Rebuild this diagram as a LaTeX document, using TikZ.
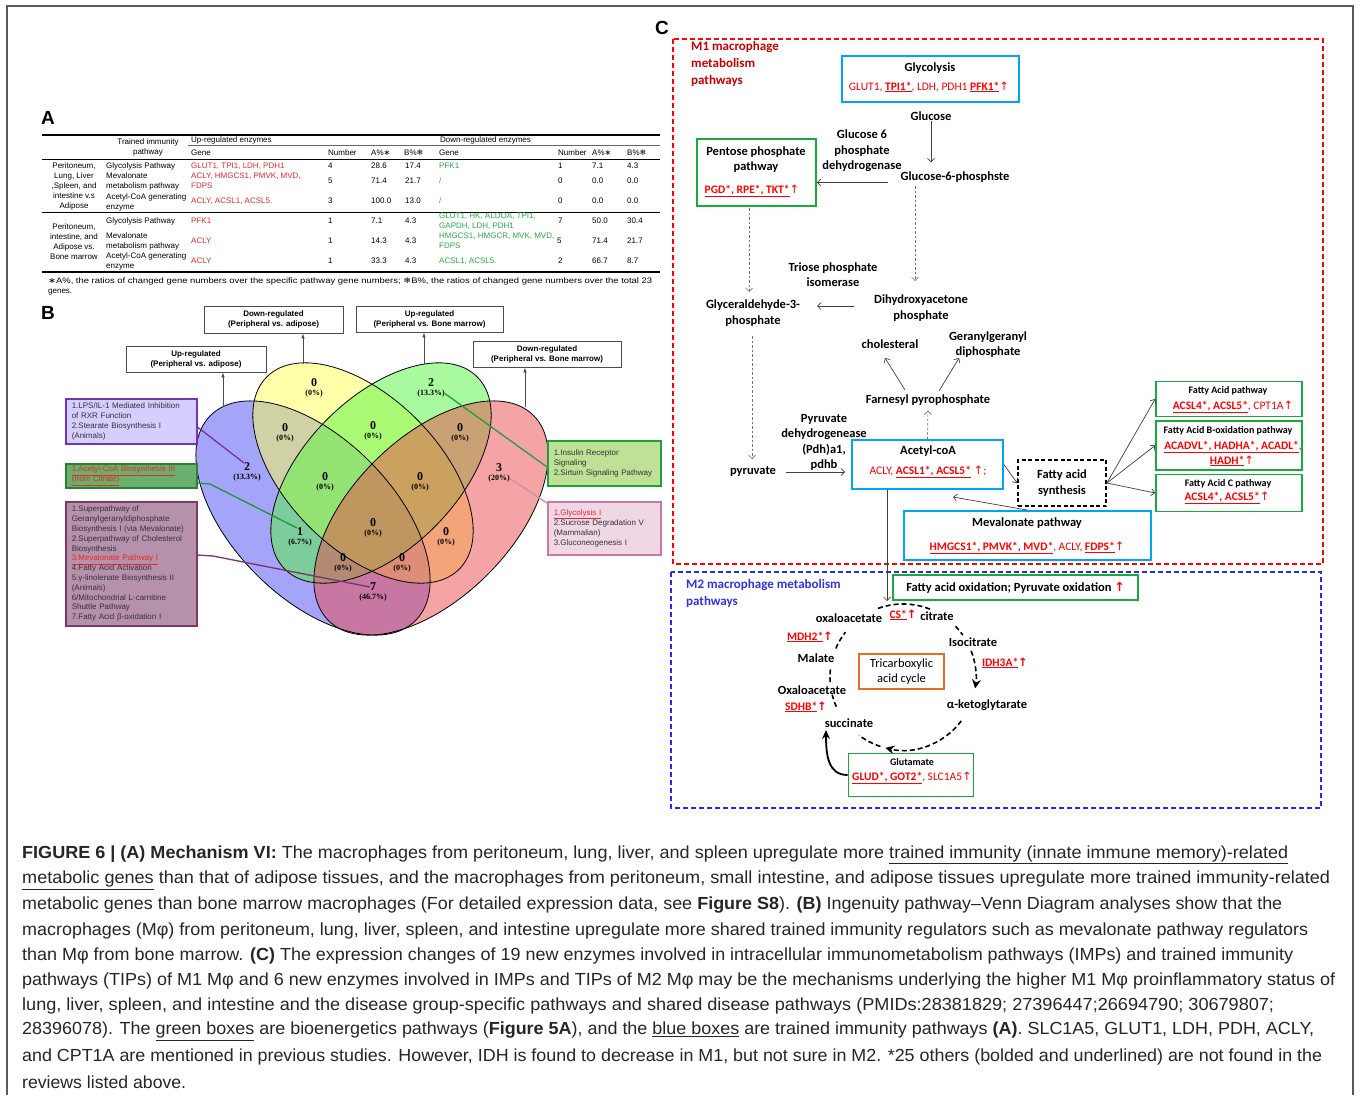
\documentclass[tikz,border=0pt]{standalone}
\usepackage{fontspec}
\usepackage{graphicx}
\usetikzlibrary{arrows.meta,calc}
\setmainfont{Liberation Sans}
\newfontfamily\lsans{Liberation Sans}
\newfontfamily\lserif{Liberation Serif}
\newfontfamily\carl{Carlito}
\newfontfamily\djv{DejaVu Sans}
\newcommand\fsz[2]{\fontsize{#1pt}{#2pt}\selectfont}
\newcommand\gs[1]{\textbf{\underline{#1}}}
\newcommand\upar{{\djv ↑}}
\definecolor{tred}{RGB}{235,40,40}
\definecolor{tgrn}{RGB}{40,170,70}
\definecolor{vblue}{RGB}{75,75,245}
\definecolor{vyel}{RGB}{255,255,85}
\definecolor{vgrn}{RGB}{85,245,65}
\definecolor{vpink}{RGB}{235,75,75}
\definecolor{cred}{RGB}{255,0,0}
\definecolor{m1red}{RGB}{200,0,0}
\definecolor{m2blue}{RGB}{50,50,230}
\definecolor{dblue}{RGB}{40,40,245}
\definecolor{cyanb}{RGB}{0,165,245}
\definecolor{boxg}{RGB}{25,170,60}
\definecolor{orng}{RGB}{230,110,30}
\definecolor{pbD}{RGB}{115,50,185}
\definecolor{pbF}{RGB}{212,207,255}
\definecolor{gbD}{RGB}{40,130,50}
\definecolor{gbF}{RGB}{105,175,110}
\definecolor{mbD}{RGB}{130,55,100}
\definecolor{mbF}{RGB}{182,145,172}
\definecolor{rgD}{RGB}{30,160,60}
\definecolor{rgF}{RGB}{190,225,150}
\definecolor{pkD}{RGB}{205,120,160}
\definecolor{pkF}{RGB}{240,215,230}
\definecolor{lnP}{RGB}{120,50,170}
\definecolor{lnG}{RGB}{30,150,50}
\definecolor{lnM}{RGB}{125,50,110}
\definecolor{lnK}{RGB}{210,140,170}
\newcommand\vlab[5]{\node[vnum] (#1) at (#2,#3) {#4}; \node[vpct] (#1x) at (#2,#3+10.5) {(#5)};}
\begin{document}
\begin{tikzpicture}[x=1pt,y=-1pt,
  tb/.style={inner sep=0pt, anchor=west, align=left, font=\lsans\fsz{8}{10}},
  tbc/.style={inner sep=0pt, align=center, font=\lsans\fsz{8}{10}},
  vnum/.style={inner sep=0pt, font=\lserif\bfseries\fsz{12}{12}},
  vpct/.style={inner sep=0pt, font=\lserif\bfseries\fsz{8}{8}},
  vhb/.style={draw=black!70, fill=white, line width=0.8pt, font=\lsans\bfseries\fsz{8}{10}, align=center, inner sep=0pt},
  varr/.style={draw=black!70, line width=0.8pt, -{Latex[length=5pt,width=3.5pt]}},
  sbox/.style={anchor=north west, inner xsep=6pt, inner ysep=2pt, align=left, font=\lsans\fsz{8}{9.8}, text=black!80, line width=1.5pt},
  cbox/.style={draw=cyanb, line width=1.8pt, inner sep=0pt},
  gbox/.style={draw=boxg, line width=1.8pt, inner sep=0pt},
  lab/.style={inner sep=0pt, align=center, font=\carl\bfseries\fsz{12.5}{15.5}},
  hdr/.style={inner sep=0pt, align=center, font=\carl\bfseries\fsz{10}{12}},
  gene/.style={inner sep=0pt, font=\carl\fsz{11.5}{14}, text=cred},
  garr/.style={draw=black!75, line width=0.7pt, -{Straight Barb[length=3.5pt,width=7pt]}},
  gdash/.style={draw=black!55, line width=0.7pt, dash pattern=on 2.5pt off 2pt, -{Straight Barb[length=3.5pt,width=7pt]}},
  tcad/.style={line width=1.6pt, dash pattern=on 5pt off 3pt},
  tcaarr/.style={tcad, -{Stealth[length=9pt,width=9pt,inset=3pt]}},
  captx/.style={inner sep=0pt, anchor=west, font=\lsans\fsz{17.5}{20}, text=black!85}
]
\useasboundingbox (0,0) rectangle (1360,1095);
\fill[white] (0,0) rectangle (1360,1095);
\draw[black!65, line width=1.5pt] (7,1095) -- (7,6) -- (1353,6) -- (1353,1095);

% ---------------- Panel A ----------------
\node[font=\lsans\bfseries\fsz{19}{19}, inner sep=0] (lA) at (48,118) {A};
\draw[line width=1.3pt] (42,135) -- (660,135);
\draw[line width=0.4pt, black!60] (188,145.5) -- (660,145.5);
\draw[line width=0.8pt] (42,159) -- (660,159);
\draw[line width=0.8pt] (42,212) -- (660,212);
\draw[line width=1.3pt] (42,272) -- (660,272);
\node[tbc, font=\lsans\fsz{8}{9.5}] (hTI) at (148,147.5) {Trained immunity\\pathway};
\node[tb] (hUp) at (191,140) {Up-regulated enzymes};
\node[tb] (hDn) at (440,140) {Down-regulated enzymes};
\node[tb] (hG1) at (191,153) {Gene};
\node[tb] (hN1) at (328,153) {Number};
\node[tb] (hA1) at (371,153) {A\%{\djv ∗}};
\node[tb] (hB1) at (404,153) {B\%{\djv ❄}};
\node[tb] (hG2) at (439,153) {Gene};
\node[tb] (hN2) at (558,153) {Number};
\node[tb] (hA2) at (592,153) {A\%{\djv ∗}};
\node[tb] (hB2) at (627,153) {B\%{\djv ❄}};
\node[tbc] (grp1) at (74,186) {Peritoneum,\\Lung, Liver\\,Spleen, and\\intestine v.s\\Adipose};
\node[tbc] (grp2) at (74,241.5) {Peritoneum,\\intestine, and\\Adipose vs.\\Bone marrow};
\node[tb] (p1) at (106,166) {Glycolysis Pathway};
\node[tb] (p2) at (106,181) {Mevalonate\\metabolism pathway};
\node[tb] (p3) at (106,202) {Acetyl-CoA generating\\enzyme};
\node[tb] (p4) at (106,221) {Glycolysis Pathway};
\node[tb] (p5) at (106,241) {Mevalonate\\metabolism pathway};
\node[tb] (p6) at (106,261.5) {Acetyl-CoA generating\\enzyme};
\node[tb, text=tred] (u1) at (191,166) {GLUT1, TPI1, LDH, PDH1};
\node[tb, text=tred] (u2) at (191,181) {ACLY, HMGCS1, PMVK, MVD,\\FDPS};
\node[tb, text=tred] (u3) at (191,201) {ACLY, ACSL1, ACSL5.};
\node[tb, text=tred] (u4) at (191,221) {PFK1};
\node[tb, text=tred] (u5) at (191,241) {ACLY};
\node[tb, text=tred] (u6) at (191,261) {ACLY};
\node[tb] (n1) at (328,166) {4};
\node[tb] (n2) at (328,181) {5};
\node[tb] (n3) at (328,201) {3};
\node[tb] (n4) at (328,221) {1};
\node[tb] (n5) at (328,241) {1};
\node[tb] (n6) at (328,261) {1};
\node[tb] (a1) at (371,166) {28.6};
\node[tb] (a2) at (371,181) {71.4};
\node[tb] (a3) at (371,201) {100.0};
\node[tb] (a4) at (371,221) {7.1};
\node[tb] (a5) at (371,241) {14.3};
\node[tb] (a6) at (371,261) {33.3};
\node[tb] (b1) at (405,166) {17.4};
\node[tb] (b2) at (405,181) {21.7};
\node[tb] (b3) at (405,201) {13.0};
\node[tb] (b4) at (405,221) {4.3};
\node[tb] (b5) at (405,241) {4.3};
\node[tb] (b6) at (405,261) {4.3};
\node[tb, text=tgrn] (d1) at (439,166) {PFK1};
\node[tb, text=tgrn] (d2) at (439,181) {/};
\node[tb, text=tgrn] (d3) at (439,201) {/};
\node[tb, text=tgrn] (d4) at (439,221) {GLUT1, HK, ALDOA, TPI1,\\GAPDH, LDH, PDH1};
\node[tb, text=tgrn] (d5) at (439,241) {HMGCS1, HMGCR, MVK, MVD,\\FDPS};
\node[tb, text=tgrn] (d6) at (439,261) {ACSL1, ACSL5.};
\node[tb] (m1) at (558,166) {1};
\node[tb] (m2) at (558,181) {0};
\node[tb] (m3) at (558,201) {0};
\node[tb] (m4) at (558,221) {7};
\node[tb] (m5) at (557,241) {5};
\node[tb] (m6) at (558,261) {2};
\node[tb] (c1) at (592,166) {7.1};
\node[tb] (c2) at (592,181) {0.0};
\node[tb] (c3) at (592,201) {0.0};
\node[tb] (c4) at (592,221) {50.0};
\node[tb] (c5) at (592,241) {71.4};
\node[tb] (c6) at (592,261) {66.7};
\node[tb] (e1) at (627,166) {4.3};
\node[tb] (e2) at (627,181) {0.0};
\node[tb] (e3) at (627,201) {0.0};
\node[tb] (e4) at (627,221) {30.4};
\node[tb] (e5) at (627,241) {21.7};
\node[tb] (e6) at (627,261) {8.7};
\node[tb] (fn1) at (48,281) {\resizebox{604pt}{\height}{{\djv ∗}A\%, the ratios of changed gene numbers over the specific pathway gene numbers; {\djv ❄}B\%, the ratios of changed gene numbers over the total 23}};
\node[tb] (fn2) at (48,292) {genes.};

% ---------------- Panel B ----------------
\node[font=\lsans\bfseries\fsz{19}{19}, inner sep=0] (lB) at (48,313) {B};
\fill[vblue, fill opacity=0.5, rotate around={-45:(313,518)}] (313,518) ellipse [x radius=145pt, y radius=80pt];
\fill[vyel, fill opacity=0.5, rotate around={-45:(363,473)}] (363,473) ellipse [x radius=136pt, y radius=76pt];
\fill[vgrn, fill opacity=0.5, rotate around={45:(381,473)}] (381,473) ellipse [x radius=136pt, y radius=76pt];
\fill[vpink, fill opacity=0.5, rotate around={45:(431,518)}] (431,518) ellipse [x radius=145pt, y radius=80pt];
\draw[line width=0.8pt, rotate around={-45:(313,518)}] (313,518) ellipse [x radius=145pt, y radius=80pt];
\draw[line width=0.8pt, rotate around={-45:(363,473)}] (363,473) ellipse [x radius=136pt, y radius=76pt];
\draw[line width=0.8pt, rotate around={45:(381,473)}] (381,473) ellipse [x radius=136pt, y radius=76pt];
\draw[line width=0.8pt, rotate around={45:(431,518)}] (431,518) ellipse [x radius=145pt, y radius=80pt];

\vlab{vb}{247}{467}{2}{13.3\%}
\vlab{vy}{314}{383}{0}{0\%}
\vlab{vg}{431}{383}{2}{13.3\%}
\vlab{vp}{499}{468}{3}{20\%}
\vlab{vby}{285}{428}{0}{0\%}
\vlab{vyg}{373}{426}{0}{0\%}
\vlab{vgp}{460}{428}{0}{0\%}
\vlab{vbyg}{325}{477}{0}{0\%}
\vlab{vygp}{420}{477}{0}{0\%}
\vlab{vbg}{300}{532}{1}{6.7\%}
\vlab{vall}{373}{523}{0}{0\%}
\vlab{vyp}{446}{532}{0}{0\%}
\vlab{vbgp}{343}{558}{0}{0\%}
\vlab{vbyp}{402}{558}{0}{0\%}
\vlab{vbp}{373}{587}{7}{46.7\%}

\node[vhb, minimum width=139pt, minimum height=27pt] (hb1) at (273.5,319.5) {Down-regulated\\(Peripheral vs. adipose)};
\node[vhb, minimum width=147pt, minimum height=26pt] (hb2) at (429.5,319) {Up-regulated\\(Peripheral vs. Bone marrow)};
\node[vhb, minimum width=140pt, minimum height=26pt] (hb3) at (196,359) {Up-regulated\\(Peripheral vs. adipose)};
\node[vhb, minimum width=148pt, minimum height=26pt] (hb4) at (547,354) {Down-regulated\\(Peripheral vs. Bone marrow)};
\coordinate (ea) at (303,364);
\coordinate (eb) at (424,364);
\coordinate (ec) at (223,407);
\coordinate (ed) at (525,407);
\draw[varr] (ea) -- (ea |- hb1.south);
\draw[varr] (eb) -- (eb |- hb2.south);
\draw[varr] (ec) -- (ec |- hb3.south);
\draw[varr] (ed) -- (ed |- hb4.south);

\node[sbox, draw=pbD, fill=pbF, text width=119pt, minimum height=45pt] (pb) at (65,398) {1.LPS/IL-1 Mediated Inhibition\\of RXR Function\\2.Stearate Biosynthesis I\\(Animals)};
\node[sbox, draw=gbD, fill=gbF, text width=119pt, minimum height=24pt, text=tred] (gb) at (65,463) {\underline{1.Acetyl-CoA Biosynthesis III}\\\underline{(from Citrate)}};
\node[sbox, draw=mbD, fill=mbF, text width=119pt, minimum height=124pt] (mb) at (65,501) {1.Superpathway of\\Geranylgeranyldiphosphate\\Biosynthesis I (via Mevalonate)\\2.Superpathway of Cholesterol\\Biosynthesis\\{\color{tred}\underline{3.Mevalonate Pathway I}}\\4.Fatty Acid Activation\\5.γ-linolenate Biosynthesis II\\(Animals)\\6/Mitochondrial L-carnitine\\Shuttle Pathway\\7.Fatty Acid β-oxidation I};
\node[sbox, draw=rgD, fill=rgF, text width=101pt, minimum height=45pt] (rg) at (547,440) {1.Insulin Receptor\\Signaling\\2.Sirtuin Signaling Pathway};
\node[sbox, draw=pkD, fill=pkF, text width=101pt, minimum height=53pt] (pkb) at (547,501) {{\color{tred}\underline{1.Glycolysis I}}\\2.Sucrose Degradation V\\(Mammalian)\\3.Gluconeogenesis I};

\coordinate (gk) at (210,484);
\coordinate (mk) at (213,556);
\draw[lnP, line width=1.3pt] (pb.east |- 0,427) -- (vb.north west);
\draw[lnG, line width=1.3pt] (gb.east |- 0,483) -- (gk) -- (vbg.north west);
\draw[lnM, line width=1.3pt] (mb.east |- 0,555) -- (mk) -- (vbp.west);
\draw[rgD, line width=1.3pt] (vgx.east) -- (rg.west |- 0,467);
\draw[lnK, line width=1.3pt] (vpx.east) -- (pkb.west |- 0,503);

% ---------------- Panel C ----------------
\node[font=\lsans\bfseries\fsz{19}{19}, inner sep=0] (lC) at (662,28) {C};
\draw[cred, line width=1.5pt, dash pattern=on 5pt off 3pt] (673,39) rectangle (1323,564);
\draw[dblue, line width=1.5pt, dash pattern=on 5pt off 3pt] (671,572) rectangle (1321,808);
\node[lab, text=m1red, align=left, anchor=west, font=\carl\bfseries\fsz{13}{17}] (m1t) at (691,64) {M1 macrophage\\metabolism\\pathways};
\node[lab, text=m2blue, align=left, anchor=west, font=\carl\bfseries\fsz{13}{17}] (m2t) at (686,593.5) {M2 macrophage metabolism\\pathways};

\node[lab] (glc) at (931,116) {Glucose};
\node[cbox, fill=white, minimum width=177pt, minimum height=46pt] (glyb) at (930.5,79) {};
\node[lab] (glyt) at (930,68) {Glycolysis};
\node[gene] (glyg) at (929,87) {GLUT1, \gs{TPI1*}, LDH, PDH1 \gs{PFK1*}\upar};
\node[lab] (g6pd) at (862,151) {Glucose 6\\phosphate\\dehydrogenase};
\node[lab] (g6p) at (955,177) {Glucose-6-phosphste};
\draw[garr, shorten >=9pt] (glc.south) -- (glc.south |- g6p.north);

\node[gbox, minimum width=119pt, minimum height=67pt] (ppb) at (756.5,172.5) {};
\node[lab] (ppt) at (756,159.5) {Pentose phosphate\\pathway};
\node[gene] (ppg) at (752,191) {\gs{PGD*, RPE*, TKT*}\upar};
\coordinate (ga) at (888,182.5);
\draw[garr] (ga) -- (ga -| ppb.east);

\node[lab] (tpi) at (833,274.5) {Triose phosphate\\isomerase};
\node[lab] (gly3) at (753,313) {Glyceraldehyde-3-\\phosphate};
\node[lab] (dhap) at (921,308) {Dihydroxyacetone\\phosphate};
\coordinate (ds1) at (749,208);
\coordinate (de1) at (749,292);
\draw[gdash] (ds1) -- (de1);
\coordinate (ds2) at (915,186);
\coordinate (de2) at (915,281);
\draw[gdash] (ds2) -- (de2);
\coordinate (hs1) at (854,306);
\coordinate (he1) at (817,306);
\draw[garr] (hs1) -- (he1);
\node[lab] (pyr) at (753,472) {pyruvate};
\coordinate (ds3) at (752,336);
\coordinate (de3) at (752,459);
\draw[gdash] (ds3) -- (de3);
\node[lab] (chol) at (890,344) {cholesteral};
\node[lab] (ggpp) at (988,344.5) {Geranylgeranyl\\diphosphate};
\node[lab] (fpp) at (928,400) {Farnesyl pyrophosphate};
\coordinate (fs1) at (905,390); \coordinate (fe1) at (885,358);
\coordinate (fs2) at (939,391); \coordinate (fe2) at (959,358);
\draw[garr] (fs1) -- (fe1);
\draw[garr] (fs2) -- (fe2);
\node[lab] (pdh) at (824,442.5) {Pyruvate\\dehydrogenease\\(Pdh)a1,\\pdhb};
\node[cbox, minimum width=151pt, minimum height=49pt] (acb) at (927.5,464.5) {};
\node[lab] (act) at (928,451) {Acetyl-coA};
\node[gene] (acg) at (928,472) {ACLY, \gs{ACSL1*, ACSL5*} \upar;};
\draw[gdash, shorten >=5pt] (acb.north) -- (fpp.south);
\draw[garr, shorten <=10pt, shorten >=6pt] (pyr.east) -- (acb.west |- pyr.east);

\node[lab, draw, line width=1.8pt, dash pattern=on 4pt off 2.5pt, minimum width=88pt, minimum height=46pt] (fas) at (1062,483) {Fatty acid\\synthesis};
\draw[garr] (acb.east) -- (fas.west);
\node[gbox, minimum width=146pt, minimum height=35pt] (fa1) at (1229,399) {};
\node[gbox, minimum width=146pt, minimum height=49pt] (fa2) at (1229,445.5) {};
\node[gbox, minimum width=146pt, minimum height=37pt] (fa3) at (1229,493) {};
\node[hdr] (fa1t) at (1228,391) {Fatty Acid pathway};
\node[gene] (fa1g) at (1233,407) {\gs{ACSL4*, ACSL5*}, CPT1A\upar};
\node[hdr] (fa2t) at (1228,431) {Fatty Acid B-oxidation pathway};
\node[gene] (fa2g) at (1233,447) {\gs{ACADVL*, HADHA*, ACADL*},};
\node[gene] (fa2h) at (1232,461) {\gs{HADH*}\upar};
\node[hdr] (fa3t) at (1228,484) {Fatty Acid C pathway};
\node[gene] (fa3g) at (1227,498) {\gs{ACSL4*, ACSL5*}\upar};
\draw[garr] (fas.east) -- (fa1.west);
\draw[garr] (fas.east) -- (fa2.west);
\draw[garr] (fas.east) -- (fa3.west);

\node[cbox, minimum width=247pt, minimum height=49pt] (mvb) at (1027.5,535.5) {};
\node[lab] (mvt) at (1027,523) {Mevalonate pathway};
\node[gene] (mvg) at (1027,548) {\gs{HMGCS1*, PMVK*, MVD*}, ACLY, \gs{FDPS*}\upar};
\coordinate (mve) at (953,497);
\draw[garr] (mvb.north) -- (mve);
\coordinate (tctop) at (887,601);
\draw[garr] (acb.south -| tctop) -- (tctop);

% M2
\node[gbox, lab, minimum width=245pt, minimum height=25pt] (fao) at (1015.5,587.5) {Fatty acid oxidation; Pyruvate oxidation {\color{cred}\upar}};
\coordinate (tc) at (903,677);
\node[lab] (oxa1) at (849,618) {oxaloacetate};
\node[gene, font=\carl\bfseries\fsz{11.5}{14}] (cs) at (903,615) {\underline{CS*}\upar};
\node[lab] (cit) at (937,616) {citrate};
\node[lab] (iso) at (973,642) {Isocitrate};
\node[gene, font=\carl\bfseries\fsz{11.5}{14}] (idh) at (1005,663) {\underline{IDH3A*}\upar};
\node[lab] (akg) at (987,705) {α-ketoglytarate};
\node[gene, font=\carl\bfseries\fsz{11.5}{14}] (mdh) at (810,637) {\underline{MDH2*}\upar};
\node[lab] (mal) at (816,658) {Malate};
\node[lab] (oxa2) at (812,690) {Oxaloacetate};
\node[gene, font=\carl\bfseries\fsz{11.5}{14}] (sdh) at (806,707) {\underline{SDHB*}\upar};
\node[lab] (suc) at (849,723) {succinate};
\node[lab, font=\carl\fsz{12.5}{15.5}, draw=orng, line width=1.5pt, minimum width=85pt, minimum height=35pt] (tcab) at (901.5,671.5) {Tricarboxylic\\acid cycle};
\draw[tcad] ($(tc)+(110:73pt)$) arc[start angle=110, end angle=67, radius=73pt];
\draw[tcad] ($(tc)+(44:73pt)$) arc[start angle=44, end angle=35, radius=73pt];
\draw[tcaarr] ($(tc)+(21:73pt)$) arc[start angle=21, end angle=-9, radius=73pt];
\draw[tcaarr] ($(tc)+(-37:73pt)$) arc[start angle=-37, end angle=-104, radius=73pt];
\draw[tcad] ($(tc)+(-108:73pt)$) arc[start angle=-108, end angle=-127, radius=73pt];
\draw[tcad] ($(tc)+(-156:73pt)$) arc[start angle=-156, end angle=-166, radius=73pt];
\draw[tcad] ($(tc)+(174:73pt)$) arc[start angle=174, end angle=184, radius=73pt];
\draw[tcad] ($(tc)+(157:73pt)$) arc[start angle=157, end angle=142, radius=73pt];
\node[gbox, minimum width=125pt, minimum height=43pt] (glub) at (911,775) {};
\node[hdr] (glut) at (912,762) {Glutamate};
\node[gene] (glug) at (912,778) {\gs{GLUD*, GOT2*}, SLC1A5\upar};
\coordinate (sucb) at (826,730);
\draw[line width=1.8pt, -{Stealth[length=9pt,width=8pt,inset=3pt]}] (glub.west) .. controls (828,775) and (826,755) .. (sucb);

% ---------------- Caption ----------------
\node[captx] (cap1) at (22,855) {\resizebox{1266pt}{\height}{\textbf{FIGURE 6 | (A) Mechanism VI:} The macrophages from peritoneum, lung, liver, and spleen upregulate more \underline{trained immunity (innate immune memory)-related}}};
\node[captx] (cap2) at (22,880.2) {\resizebox{1308pt}{\height}{\underline{metabolic genes} than that of adipose tissues, and the macrophages from peritoneum, small intestine, and adipose tissues upregulate more trained immunity-related}};
\node[captx] (cap3) at (22,905.4) {\resizebox{1260pt}{\height}{metabolic genes than bone marrow macrophages (For detailed expression data, see \textbf{Figure S8}). \textbf{(B)} Ingenuity pathway–Venn Diagram analyses show that the}};
\node[captx] (cap4) at (22,930.6) {\resizebox{1286pt}{\height}{macrophages (Mφ) from peritoneum, lung, liver, spleen, and intestine upregulate more shared trained immunity regulators such as mevalonate pathway regulators}};
\node[captx] (cap5) at (22,955.8) {\resizebox{1271pt}{\height}{than Mφ from bone marrow. \textbf{(C)} The expression changes of 19 new enzymes involved in intracellular immunometabolism pathways (IMPs) and trained immunity}};
\node[captx] (cap6) at (22,981) {\resizebox{1313pt}{\height}{pathways (TIPs) of M1 Mφ and 6 new enzymes involved in IMPs and TIPs of M2 Mφ may be the mechanisms underlying the higher M1 Mφ proinflammatory status of}};
\node[captx] (cap7) at (22,1006.2) {\resizebox{1252pt}{\height}{lung, liver, spleen, and intestine and the disease group-specific pathways and shared disease pathways (PMIDs:28381829; 27396447;26694790; 30679807;}};
\node[captx] (cap8) at (22,1031.4) {\resizebox{1292pt}{\height}{28396078). The \underline{green boxes} are bioenergetics pathways (\textbf{Figure 5A}), and the \underline{blue boxes} are trained immunity pathways \textbf{(A)}. SLC1A5, GLUT1, LDH, PDH, ACLY,}};
\node[captx] (cap9) at (22,1056.6) {\resizebox{1300pt}{\height}{and CPT1A are mentioned in previous studies. However, IDH is found to decrease in M1, but not sure in M2. *25 others (bolded and underlined) are not found in the}};
\node[captx] (cap10) at (22,1081.8) {\resizebox{164pt}{\height}{reviews listed above.}};
\end{tikzpicture}
\end{document}
